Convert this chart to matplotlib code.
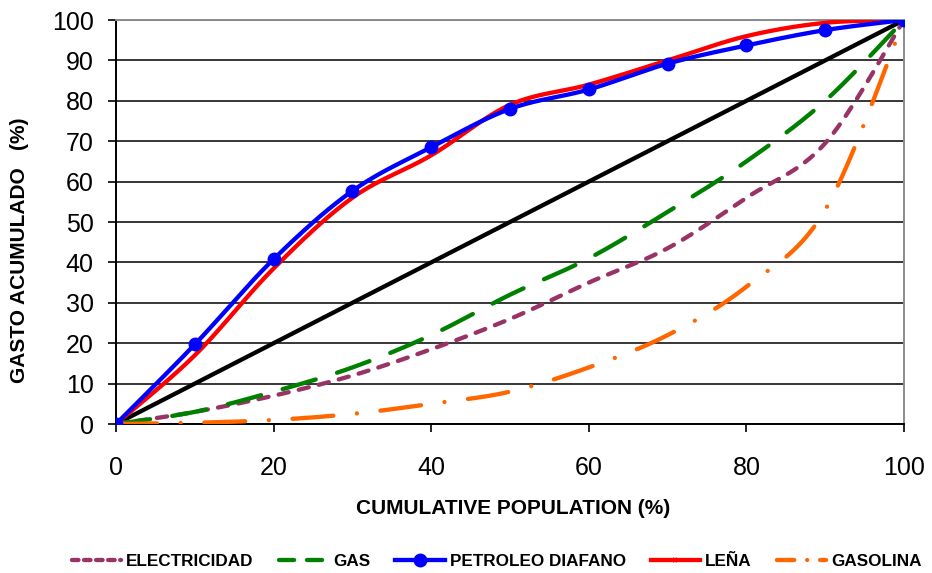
import numpy as np
import matplotlib
matplotlib.use("Agg")
import matplotlib.pyplot as plt
from matplotlib.lines import Line2D

x = [0, 10, 20, 30, 40, 50, 60, 70, 80, 90, 100]
electricidad = [0, 3, 7, 12, 18.5, 26, 35, 43.5, 56, 69.5, 100]
gas = [0, 3, 8, 14, 22, 32, 41, 52.5, 65, 80, 100]
petroleo = [0, 19.7, 40.8, 57.7, 68.5, 78, 82.8, 89.2, 93.7, 97.5, 100]
lena = [0, 17, 38.5, 56, 66.5, 79, 84, 90, 96, 99.3, 100]
gasolina = [0, 0.3, 1, 2.5, 5, 8, 14, 22, 34, 53, 100]
igualdad = [0, 100]
igualdad_x = [0, 100]

xticks = [0, 20, 40, 60, 80, 100]
yticks = [0, 10, 20, 30, 40, 50, 60, 70, 80, 90, 100]


def smooth(xs, ys, n=20):
    """Catmull-Rom smoothing (like Excel 'smoothed line') for rendering."""
    xs = np.asarray(xs, float)
    ys = np.asarray(ys, float)
    P = np.column_stack([xs, ys])
    P = np.vstack([P[0], P, P[-1]])
    out = []
    for i in range(1, len(P) - 2):
        p0, p1, p2, p3 = P[i - 1], P[i], P[i + 1], P[i + 2]
        t = np.linspace(0, 1, n, endpoint=False)[:, None]
        c = 0.5 * ((2 * p1) + (-p0 + p2) * t + (2 * p0 - 5 * p1 + 4 * p2 - p3) * t ** 2
                   + (-p0 + 3 * p1 - 3 * p2 + p3) * t ** 3)
        out.append(c)
    out.append(P[-2][None, :])
    out = np.vstack(out)
    return out[:, 0], out[:, 1]


plt.rcParams['font.family'] = ['Liberation Sans', 'DejaVu Sans']

fig = plt.figure(figsize=(9.32, 5.73), dpi=100)
ax = fig.add_axes([116 / 932, 1 - 424 / 573, (904 - 116) / 932, (424 - 20) / 573])

lw = 3.1
d_elec = (2.4, 2.4)
d_gas = (8, 5.2)
d_gaso = (9.5, 5.5, 0.01, 5.5)

ax.plot(igualdad_x, igualdad, color='black', lw=lw, zorder=3)

sx, sy = smooth(x, electricidad)
ax.plot(sx, sy, color='#993366', lw=lw, dashes=d_elec, dash_capstyle='round', zorder=4)
sx, sy = smooth(x, gas)
ax.plot(sx, sy, color='#008000', lw=lw, dashes=d_gas, dash_capstyle='round', zorder=4)
sx, sy = smooth(x, gasolina)
ax.plot(sx, sy, color='#FF6600', lw=lw, dashes=d_gaso, dash_capstyle='round', zorder=4)
sx, sy = smooth(x, lena)
ax.plot(sx, sy, color='#FF0000', lw=lw, zorder=5)
sx, sy = smooth(x, petroleo)
ax.plot(sx, sy, color='#0000FF', lw=lw, zorder=6)
ax.plot(x, petroleo, ls='none', marker='o', ms=9, color='#0000FF', zorder=7)

ax.set_xlim(0, 100)
ax.set_ylim(0, 100)
ax.set_xticks(xticks)
ax.set_yticks(yticks)
ax.tick_params(axis='both', labelsize=18, length=6, width=1.2, direction='out', color='black')
ax.tick_params(axis='x', pad=17)
ax.tick_params(axis='y', pad=10)
ax.yaxis.grid(True, color='black', lw=1.1)
ax.set_axisbelow(True)
for s in ['left', 'bottom']:
    ax.spines[s].set_color('black')
    ax.spines[s].set_linewidth(1.4)
for s in ['top', 'right']:
    ax.spines[s].set_color('#8c8c8c')
    ax.spines[s].set_linewidth(1.4)
for sp in ax.spines.values():
    sp.set_zorder(2)

fig.text(513 / 932, 1 - 509 / 573, 'CUMULATIVE POPULATION (%)', fontsize=15,
         fontweight='bold', ha='center', va='center')
fig.text(20 / 932, 1 - 250 / 573, 'GASTO ACUMULADO   (%)', rotation=90, fontsize=15,
         fontweight='bold', ha='center', va='center')

handles = [
    Line2D([], [], color='#993366', lw=lw, dashes=(1.5, 1.3), dash_capstyle='round'),
    Line2D([], [], color='#008000', lw=lw, dashes=(3.5, 3), dash_capstyle='round'),
    Line2D([], [], color='#0000FF', lw=lw, marker='o', ms=9),
    Line2D([], [], color='#FF0000', lw=lw, marker='x', ms=3, mew=1.5),
    Line2D([], [], color='#FF6600', lw=lw, dashes=(4, 3, 0.01, 3), dash_capstyle='round'),
]
labels = ['ELECTRICIDAD', 'GAS', 'PETROLEO DIAFANO', 'LEÑA', 'GASOLINA']
fig.legend(handles, labels, loc='center', bbox_to_anchor=(0.533, 1 - 561 / 573), ncol=5,
           frameon=False, prop={'weight': 'bold', 'size': 12.3}, handlelength=2.9,
           handletextpad=0.3, columnspacing=1.45, borderpad=0.2)

fig.savefig('out.png', dpi=100)
